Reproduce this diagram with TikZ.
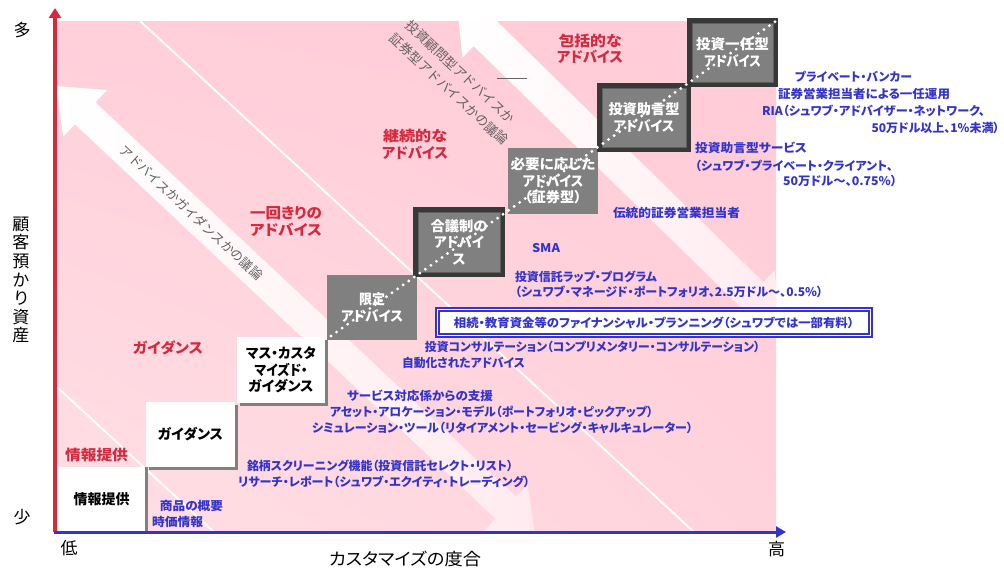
\documentclass[tikz,border=0pt]{standalone}
\usepackage{graphicx}
\usepackage{fontspec}
\setmainfont{Noto Sans CJK JP}[RawFeature=+palt]
\newfontfamily\jpm{Noto Sans CJK JP}
\usetikzlibrary{arrows.meta,shadows,calc,shadings}
\definecolor{cPink}{HTML}{FFD2DC}
\definecolor{cPinkA}{HTML}{FFCFDA}
\definecolor{cPinkB}{HTML}{FFCBD7}
\definecolor{cPinkC}{HTML}{FFDFE5}
\definecolor{cPinkD}{HTML}{FFD3DC}
\definecolor{cRed}{HTML}{D42A3E}
\definecolor{cBlue}{HTML}{3434CC}
\definecolor{cGray}{HTML}{808080}
\definecolor{cDark}{HTML}{383838}
\definecolor{cInner}{HTML}{5E5E5E}
\newcommand\fw[2]{\resizebox{#1pt}{\height}{#2}}
\begin{document}
\begin{tikzpicture}[x=1pt,y=-1pt,
 blt/.style={text=cBlue,font=\bfseries\fontsize{12}{14}\selectfont,inner sep=0pt},
 redt/.style={text=cRed,font=\bfseries\fontsize{14.5}{16.5}\selectfont,inner sep=0pt,align=center},
 axt/.style={text=black,font=\fontsize{17}{18.6}\selectfont,inner sep=0pt,align=center},
 rott/.style={text=black!62,font=\jpm\fontsize{13}{15}\selectfont,inner sep=0pt,anchor=west,rotate=-43},
 boxw/.style={fill=white,inner sep=0pt,outer sep=0pt,align=center,text=black,font=\bfseries\fontsize{14}{16.5}\selectfont},
 sh/.style={drop shadow={shadow xshift=2.5pt,shadow yshift=-2.5pt,fill=black!50,opacity=1}},
 shr/.style={drop shadow={shadow xshift=2.5pt,shadow yshift=0pt,fill=black!50,opacity=1}},
 boxg/.style={fill=cGray,inner sep=0pt,outer sep=0pt,align=center,text=white,font=\bfseries\fontsize{14}{16.5}\selectfont},
 boxd/.style={boxg,draw=cDark,line width=4.5pt,drop shadow={shadow xshift=2pt,shadow yshift=-2pt,fill=black!45,opacity=1}},
 wline/.style={white,line width=2pt},
 axline/.style={line width=3.5pt}
]
\useasboundingbox (0,0) rectangle (1004,568);
% pink field
\shade[upper left=cPinkA,upper right=cPinkB,lower left=cPinkC,lower right=cPinkD] (57,21) rectangle (776,532);
\begin{scope}
 \clip (57,21) rectangle (776,532);
 % band A
 \begin{scope}[shift={(56,86)},rotate=-43.15]
  \shade[left color=white,middle color=cPink!50!white,right color=cPink!45!white]
   (0,0) -- (40,-32) -- (40,-15) -- (616.5,-15) -- (616.5,-32) -- (656.5,0) -- (616.5,32) -- (616.5,15) -- (40,15) -- (40,32) -- cycle;
 \end{scope}
 % band C
 \begin{scope}[shift={(457,6)},rotate=-44.37]
  \shade[left color=white,middle color=cPink!50!white,right color=cPink!45!white]
   (0,0) -- (40,-33) -- (40,-17) -- (412,-17) -- (412,-33) -- (452,0) -- (412,33) -- (412,17) -- (40,17) -- (40,33) -- cycle;
 \end{scope}
 \coordinate (l1a) at (140,21); \coordinate (l1b) at (694,532);
 \coordinate (l2a) at (57,387); \coordinate (l2b) at (214,532);
 \draw[wline] (l1a) -- (l1b);
 \draw[wline] (l2a) -- (l2b);
\end{scope}
% rotated grey texts
\node[rott] (ta) at (122,148) {\fontsize{12.7}{14}\selectfont アドバイスかガイダンスかの議論};
\node[rott] (tc1) at (408,23) {投資顧問型アドバイスか};
\node[rott] (tc2) at (392,36) {証券型アドバイスかの議論};
\coordinate (g0) at (497,78); \coordinate (g1) at (527,78);
\draw[black!60,line width=0.8pt] (g0) -- (g1);
% boxes
\node[boxw,shr,minimum width=87pt,minimum height=65pt] (b1) at (101.5,499.5) {\fw{56}{情報提供}};
\node[boxw,sh,minimum width=89pt,minimum height=65pt] (b2) at (190.5,434.5) {\fw{65}{ガイダンス}};
\node[boxw,sh,minimum width=88pt,minimum height=66pt] (b3) at (281,370) {\fw{70}{マス・カスタ}\\\fw{53}{マイズド・}\\\fw{65}{ガイダンス}};
\node[boxg,minimum width=90pt,minimum height=65pt] (b4) at (372,307.5) {\fw{26}{限定}\\\fw{62}{アドバイス}};
\node[boxd,minimum width=87.5pt,minimum height=65.5pt] (b5) at (459,242) {\fw{57}{合議制の}\\\fw{50}{アドバイ}\\ス};
\node[boxg,minimum width=90pt,minimum height=66pt] (b6) at (553,181) {\fw{85}{必要に応じた}\\\fw{61}{アドバイス}\\\fw{57}{（証券型）}};
\node[boxd,minimum width=89.5pt,minimum height=64.5pt] (b7) at (644,117.5) {\fw{71}{投資助言型}\\\fw{61}{アドバイス}};
\node[boxd,minimum width=86.5pt,minimum height=64.5pt] (b8) at (732.5,52.5) {\fw{73}{投資一任型}\\\fw{57}{アドバイス}};
\foreach \b in {b5,b7,b8}
  \draw[cInner,line width=0.9pt] ($(\b.north west)+(2.7,2.7)$) rectangle ($(\b.south east)+(-2.7,-2.7)$);
% dotted diagonal
\coordinate (d0) at (331,336); \coordinate (d1) at (776,21);
\draw[white,line width=3.2pt,line cap=round,dash pattern=on 0pt off 6.8pt] (d0) -- (d1);
% red labels
\node[redt] (r1) at (590,48.5) {\fw{63}{包括的な}\\\fw{66}{アドバイス}};
\node[redt] (r2) at (415,144.5) {\fw{64}{継続的な}\\\fw{66}{アドバイス}};
\node[redt] (r3) at (286,221.5) {\fw{72}{一回きりの}\\\fw{72}{アドバイス}};
\node[redt] (r4) at (168,348) {\fw{70}{ガイダンス}};
\node[redt] (r5) at (96.5,455) {\fw{63}{情報提供}};
% blue labels
\node[blt] (s1) at (853.5,77) {\fw{117}{プライベート・バンカー}};
\node[blt] (s2) at (864,94) {\fw{172}{証券営業担当者による一任運用}};
\node[blt] (s3) at (873.5,111) {\fw{223}{RIA（シュワブ・アドバイザー・ネットワーク、}};
\node[blt] (s4) at (935.5,128) {\fw{128}{50万ドル以上、1\%未満）}};
\node[blt] (s5) at (751,148) {\fw{112}{投資助言型サービス}};
\node[blt] (s6) at (794,166) {\fw{198}{（シュワブ・プライベート・クライアント、}};
\node[blt] (s7) at (840,181) {\fw{114}{50万ドル～、0.75\%）}};
\node[blt] (s8) at (676.5,213) {\fw{127}{伝統的証券営業担当者}};
\node[blt] (s9) at (546,248) {\fw{28}{SMA}};
\node[blt] (s10) at (586,277) {\fw{142}{投資信託ラップ・プログラム}};
\node[blt] (s11) at (669,292) {\fw{308}{（シュワブ・マネージド・ポートフォリオ、2.5万ドル～、0.5\%）}};
\node[blt,draw=cBlue,line width=1.6pt,double=white,double distance=1.5pt,fill=white,minimum width=433pt,minimum height=26pt] (s12) at (654,322.5) {\fw{400}{相続・教育資金等のファイナンシャル・プランニング（シュワブでは一部有料）}};
\node[blt] (s13) at (592.5,347) {\fw{335}{投資コンサルテーション（コンプリメンタリー・コンサルテーション）}};
\node[blt] (s14) at (463.5,363) {\fw{123}{自動化されたアドバイス}};
\node[blt] (s15) at (420,396) {\fw{146}{サービス対応係からの支援}};
\node[blt] (s16) at (491.5,412) {\fw{323}{アセット・アロケーション・モデル（ポートフォリオ・ピックアップ）}};
\node[blt] (s17) at (502.5,428) {\fw{381}{シミュレーション・ツール（リタイアメント・セービング・キャルキュレーター）}};
\node[blt] (s18) at (380,466) {\fw{266}{銘柄スクリーニング機能（投資信託セレクト・リスト）}};
\node[blt] (s19) at (384,482) {\fw{292}{リサーチ・レポート（シュワブ・エクイティ・トレーディング）}};
\node[blt] (s20) at (191.5,506) {\fw{63}{商品の概要}};
\node[blt] (s21) at (177.5,522) {\fw{51}{時価情報}};
% axes
\coordinate (o) at (55,532); \coordinate (ytop) at (55,8);
\coordinate (o2) at (53.5,532); \coordinate (xend) at (786,532);
\draw[cRed,axline,-{Triangle[width=12pt,length=10pt]}] (o) -- (ytop);
\draw[cBlue,line width=3pt,-{Triangle[width=11pt,length=10pt]}] (o2) -- (xend);
% axis labels
\node[axt] (ya) at (22,30) {多};
\node[axt] (yb) at (22,517) {少};
\node[axt] (xa) at (69,548) {低};
\node[axt] (xb) at (776.5,549) {高};
\node[axt] (xl) at (405,559) {\fw{152}{カスタマイズの度合}};
\node[axt] (yl) at (21,280) {顧\\客\\預\\か\\り\\資\\産};
\end{tikzpicture}
\end{document}
